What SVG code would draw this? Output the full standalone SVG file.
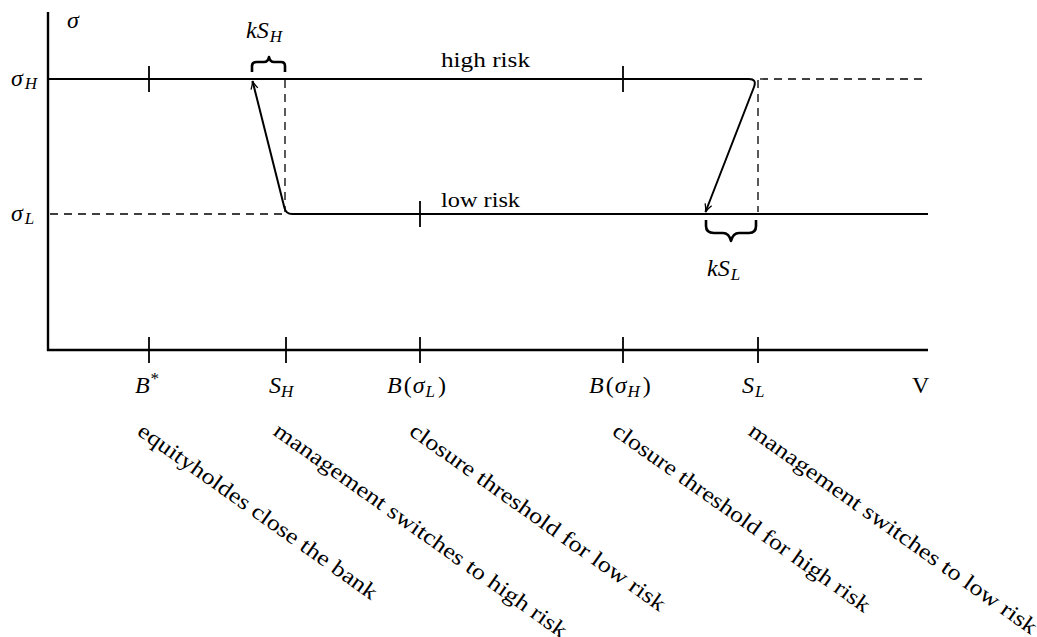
<svg xmlns="http://www.w3.org/2000/svg" width="1037" height="637" viewBox="0 0 1037 637">
<style>
.ax{stroke:#000;stroke-width:2.4;fill:none}
.ln{stroke:#000;stroke-width:2;fill:none}
.tk{stroke:#000;stroke-width:1.8}
.ds{stroke:#000;stroke-width:1.3;stroke-dasharray:8 6;fill:none}
.br{stroke:#000;stroke-width:2.6;fill:none;stroke-linejoin:round}
text{font-family:"Liberation Serif","DejaVu Serif",serif;fill:#000}
.m{font-style:italic;font-size:24px}
.sub{font-style:italic;font-size:17px}
.rm{font-size:24px}
.lb{font-size:21px}
.rot{font-size:22px}
</style>
<defs>
<marker id="ah" viewBox="0 0 10 10" refX="9" refY="5" markerWidth="10" markerHeight="10" markerUnits="userSpaceOnUse" orient="auto">
<path d="M1 1.5 Q5 4 9 5 Q5 6 1 8.5" fill="none" stroke="#000" stroke-width="1.3"/>
</marker>
</defs>
<g id="axes">
<line class="ax" x1="48" y1="12" x2="48" y2="351"/>
<line class="ax" x1="47" y1="350" x2="928" y2="350"/>
<line class="tk" x1="149" y1="337" x2="149" y2="363"/>
<line class="tk" x1="286" y1="337" x2="286" y2="363"/>
<line class="tk" x1="420" y1="337" x2="420" y2="363"/>
<line class="tk" x1="623" y1="337" x2="623" y2="363"/>
<line class="tk" x1="758" y1="337" x2="758" y2="363"/>
<text class="m" x="67" y="28">σ</text>
<text x="11" y="86"><tspan class="m">σ</tspan><tspan class="sub" dx="2" dy="3">H</tspan></text>
<text x="11" y="221"><tspan class="m">σ</tspan><tspan class="sub" dx="2" dy="3">L</tspan></text>
<text x="135" y="393"><tspan class="m">B</tspan><tspan class="sub" dy="-9">*</tspan></text>
<text x="269" y="393"><tspan class="m">S</tspan><tspan class="sub" dy="4">H</tspan></text>
<text x="387" y="393"><tspan class="m">B</tspan><tspan class="rm" dx="2">(</tspan><tspan class="m" dx="1">σ</tspan><tspan class="sub" dx="1" dy="4">L</tspan><tspan class="rm" dx="3" dy="-4">)</tspan></text>
<text x="589" y="393"><tspan class="m">B</tspan><tspan class="rm" dx="2">(</tspan><tspan class="m" dx="1">σ</tspan><tspan class="sub" dx="1" dy="4">H</tspan><tspan class="rm" dx="3" dy="-4">)</tspan></text>
<text x="742" y="393"><tspan class="m">S</tspan><tspan class="sub" dx="1" dy="4">L</tspan></text>
<text class="rm" x="912" y="393">V</text>
</g>
<g id="high-risk">
<line class="tk" x1="149" y1="66" x2="149" y2="92"/>
<line class="tk" x1="623" y1="66" x2="623" y2="92"/>
<line class="ds" x1="760" y1="79" x2="928" y2="79"/>
<text class="lb" x="441" y="67" textLength="89" lengthAdjust="spacingAndGlyphs">high risk</text>
</g>
<g id="low-risk">
<line class="ds" x1="50" y1="214" x2="284" y2="214"/>
<line class="tk" x1="420" y1="201" x2="420" y2="227"/>
<text class="lb" x="441" y="207" textLength="79" lengthAdjust="spacingAndGlyphs">low risk</text>
</g>
<g id="connectors">
<line class="ds" x1="285" y1="80" x2="285" y2="212"/>
<line class="ds" x1="758" y1="80" x2="758" y2="212"/>
<path class="ln" d="M928 214 L292 214 Q286 214 284.5 208 L252.5 81" marker-end="url(#ah)"/>
<path class="ln" d="M48 79 L749 79 Q757 79 754 87 L705.5 212" marker-end="url(#ah)"/>
</g>
<g id="brace-kSH">
<path class="br" d="M252 72 L252 66 Q252 62 257 62 L264 62 Q268 62 269 57 Q270 62 274 62 L281 62 Q285 62 285 66 L285 72"/>
<text x="246" y="38"><tspan class="m">kS</tspan><tspan class="sub" dx="1" dy="4">H</tspan></text>
</g>
<g id="brace-kSL">
<path class="br" d="M706 220 L706 226 Q706 233 714 233 L723 233 Q729 233 731 241 Q733 233 739 233 L749 233 Q756 233 756 226 L756 220"/>
<text x="707" y="276"><tspan class="m">kS</tspan><tspan class="sub" dx="1" dy="4">L</tspan></text>
</g>
<g id="annotations">
<text class="rot" transform="translate(136,434) rotate(35.3)" textLength="288" lengthAdjust="spacingAndGlyphs">equityholdes close the bank</text>
<text class="rot" transform="translate(272,434) rotate(35.3)" textLength="354" lengthAdjust="spacingAndGlyphs">management switches to high risk</text>
<text class="rot" transform="translate(408,434) rotate(35.3)" textLength="308" lengthAdjust="spacingAndGlyphs">closure threshold for low risk</text>
<text class="rot" transform="translate(611,434) rotate(35.3)" textLength="310" lengthAdjust="spacingAndGlyphs">closure threshold for high risk</text>
<text class="rot" transform="translate(747,434) rotate(35.3)" textLength="348" lengthAdjust="spacingAndGlyphs">management switches to low risk</text>
</g>
</svg>
